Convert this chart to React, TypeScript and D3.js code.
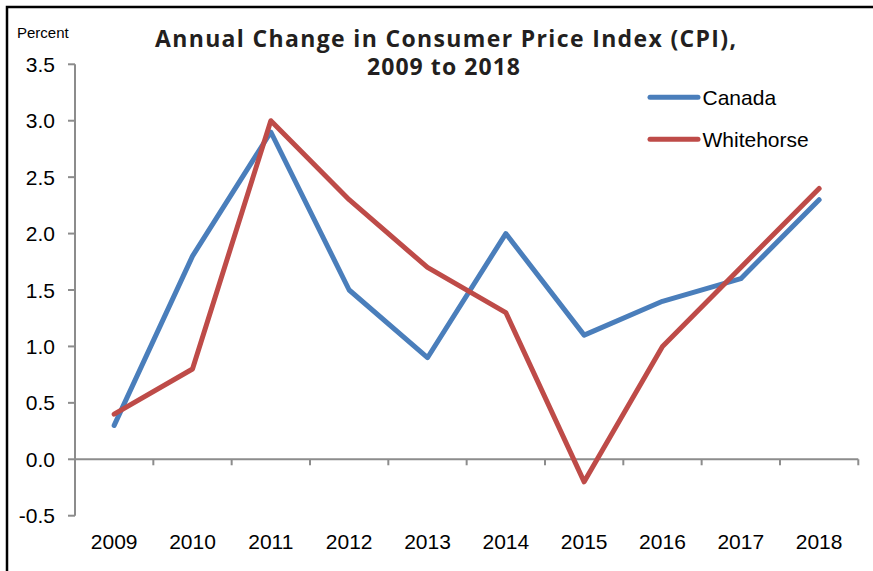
import React from "react";
import * as d3 from "d3";

const years = ["2009", "2010", "2011", "2012", "2013", "2014", "2015", "2016", "2017", "2018"];
const canada = [0.3, 1.8, 2.9, 1.5, 0.9, 2.0, 1.1, 1.4, 1.6, 2.3];
const whitehorse = [0.4, 0.8, 3.0, 2.3, 1.7, 1.3, -0.2, 1.0, 1.7, 2.4];
const yTicks = [-0.5, 0.0, 0.5, 1.0, 1.5, 2.0, 2.5, 3.0, 3.5];
const seriesNames = ["Canada", "Whitehorse"];
const seriesColors = ["#4a7ebb", "#be4b48"];

const W = 873;
const H = 571;
const left = 75;
const right = 858.3;
const yTop = 64.3;
const yBottom = 515.7;

export default function App() {
  const x = d3.scaleBand<string>().domain(years).range([left, right]).padding(0);
  const y = d3.scaleLinear().domain([-0.5, 3.5]).range([yBottom, yTop]);
  const line = d3
    .line<number>()
    .x((_, i) => (x(years[i]) as number) + x.bandwidth() / 2)
    .y((d) => y(d));
  const series = [canada, whitehorse];
  const axisColor = "#8c8c8c";
  const font = "'Liberation Sans', Arial, sans-serif";
  const boundaries = d3.range(years.length + 1).map((i) => left + i * x.bandwidth());

  return (
    <svg
      width={W}
      height={H}
      style={{ position: "absolute", left: 0, top: 0, background: "#fff" }}
    >
      <rect x={0} y={0} width={W} height={H} fill="#fff" />
      <path d={`M7,${H + 5} L7,7 L${W + 5},7`} fill="none" stroke="#000" strokeWidth={2.5} />

      {/* title */}
      <text
        x={155}
        y={46.5}
        textLength={581}
        lengthAdjust="spacing"
        fontFamily="'Open Sans', sans-serif"
        fontWeight={700}
        fontSize={23}
        fill="#231f20"
      >
        Annual Change in Consumer Price Index (CPI),
      </text>
      <text
        x={367}
        y={75}
        textLength={153}
        lengthAdjust="spacing"
        fontFamily="'Open Sans', sans-serif"
        fontWeight={700}
        fontSize={23}
        fill="#231f20"
      >
        2009 to 2018
      </text>

      <text x={17} y={37.5} fontFamily={font} fontSize={15} fill="#000">
        Percent
      </text>

      {/* y axis */}
      <line x1={left} x2={left} y1={y(3.5)} y2={y(-0.5)} stroke={axisColor} strokeWidth={2} />
      {yTicks.map((t) => (
        <g key={t}>
          <line x1={68} x2={left} y1={y(t)} y2={y(t)} stroke={axisColor} strokeWidth={2} />
          <text
            x={55}
            y={y(t)}
            dy="0.36em"
            textAnchor="end"
            fontFamily={font}
            fontSize={21}
            fill="#000"
          >
            {t.toFixed(1)}
          </text>
        </g>
      ))}

      {/* x axis at 0 */}
      <line x1={left} x2={right} y1={y(0)} y2={y(0)} stroke={axisColor} strokeWidth={2} />
      {boundaries.slice(1).map((bx, i) => (
        <line key={i} x1={bx} x2={bx} y1={y(0)} y2={y(0) + 6} stroke={axisColor} strokeWidth={2} />
      ))}
      {years.map((yr) => (
        <text
          key={yr}
          x={(x(yr) as number) + x.bandwidth() / 2}
          y={548.5}
          textAnchor="middle"
          fontFamily={font}
          fontSize={21}
          fill="#000"
        >
          {yr}
        </text>
      ))}

      {/* lines */}
      {series.map((s, i) => (
        <path
          key={i}
          d={line(s) as string}
          fill="none"
          stroke={seriesColors[i]}
          strokeWidth={5}
          strokeLinejoin="round"
          strokeLinecap="round"
        />
      ))}

      {/* legend */}
      {seriesNames.map((n, i) => (
        <g key={n}>
          <line
            x1={650}
            x2={698}
            y1={97.3 + i * 42}
            y2={97.3 + i * 42}
            stroke={seriesColors[i]}
            strokeWidth={5}
            strokeLinecap="round"
          />
          <text
            x={702.5}
            y={97.3 + i * 42}
            dy="0.36em"
            fontFamily={font}
            fontSize={21}
            fill="#000"
          >
            {n}
          </text>
        </g>
      ))}
    </svg>
  );
}
